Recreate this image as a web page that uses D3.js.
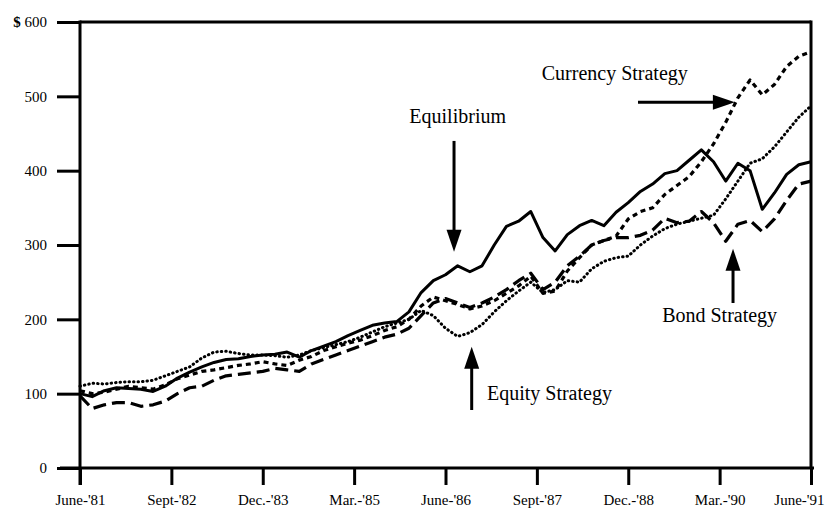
<!DOCTYPE html>
<html>
<head>
<meta charset="utf-8">
<script src="https://cdn.jsdelivr.net/npm/d3@7/dist/d3.min.js"></script>
<style>
    body { margin: 0; background: #fff; }
    svg { display: block; font-family: "Liberation Serif", "Times New Roman", serif; }
</style>
</head>
<body>
<svg id="chart" width="825" height="511"></svg>
<script>
// months since June 1981
var months = [0, 2, 4, 6, 8, 10, 12, 14, 16, 18, 20, 22, 24, 26, 28, 30, 32, 34, 36, 38,
    40, 42, 44, 46, 48, 50, 52, 54, 56, 58, 60, 62, 64, 66, 68, 70, 72, 74, 76, 78,
    80, 82, 84, 86, 88, 90, 92, 94, 96, 98, 100, 102, 104, 106, 108, 110, 112, 114, 116, 118, 120];

var equilibrium = [100, 96, 104, 108, 107, 106, 103, 110, 121, 129, 136, 142, 146, 147, 150, 152, 153, 156, 149, 158,
    164, 170, 178, 185, 192, 195, 197, 210, 236, 252, 260, 272, 264, 272, 300, 325, 332, 345, 310, 292,
    314, 326, 333, 326, 344, 357, 372, 382, 396, 400, 414, 428, 412, 386, 410, 400, 348, 370, 395, 408, 412];

var currency = [104, 100, 102, 106, 110, 108, 106, 112, 120, 125, 130, 132, 135, 138, 140, 143, 140, 138, 145, 150,
    158, 163, 168, 172, 178, 185, 190, 200, 218, 230, 225, 220, 214, 218, 225, 235, 245, 258, 235, 238,
    265, 283, 300, 306, 312, 335, 345, 350, 368, 380, 392, 412, 436, 465, 498, 522, 502, 516, 540, 554, 560];

var equity = [110, 114, 113, 115, 116, 116, 118, 124, 130, 136, 148, 156, 157, 154, 152, 152, 151, 149, 152, 158,
    162, 166, 170, 176, 183, 190, 195, 200, 212, 205, 188, 177, 182, 193, 210, 225, 238, 250, 236, 240,
    252, 250, 268, 278, 283, 285, 300, 312, 322, 328, 332, 336, 340, 362, 386, 410, 416, 432, 452, 472, 487];

var bond = [97, 80, 85, 88, 88, 83, 85, 90, 100, 108, 110, 118, 124, 126, 128, 130, 134, 132, 130, 140,
    146, 152, 158, 164, 170, 176, 180, 188, 205, 222, 228, 222, 216, 222, 230, 240, 252, 262, 240, 250,
    272, 285, 300, 306, 310, 310, 313, 320, 336, 330, 332, 345, 330, 305, 328, 333, 318, 335, 360, 382, 386];

var tickMonths = [0, 15, 30, 45, 60, 75, 90, 105, 120];
var tickLabels = ["June-'81", "Sept-'82", "Dec.-'83", "Mar.-'85", "June-'86", "Sept-'87", "Dec.-'88", "Mar.-'90", "June-'91"];
var valueTicks = [0, 100, 200, 300, 400, 500, 600];

(function()
{

    var svg = d3.select('#chart'),
        x = d3.scaleLinear().domain([0, 120]).range([80, 811]),
        y = d3.scaleLinear().domain([0, 600]).range([468, 22]);

    var series = [
        { name : 'Equilibrium', values : equilibrium, dash : null, width : 3 },
        { name : 'Currency Strategy', values : currency, dash : '5,4', width : 3.2 },
        { name : 'Equity Strategy', values : equity, dash : '0.5,4', width : 3, cap : 'round' },
        { name : 'Bond Strategy', values : bond, dash : '13,6', width : 3.2 }
    ];

    // frame
    svg.append('line')
        .attr('x1', x(0)).attr('x2', x(120))
        .attr('y1', y(600)).attr('y2', y(600))
        .attr('stroke', '#000').attr('stroke-width', 3);
    svg.append('line')
        .attr('x1', x(120)).attr('x2', x(120))
        .attr('y1', y(600) - 1.5).attr('y2', y(0))
        .attr('stroke', '#000').attr('stroke-width', 3);

    var yAxis = svg.append('g')
        .attr('transform', 'translate(' + x(0) + ',0)')
        .call(d3.axisLeft(y).tickValues(valueTicks).tickSize(23).tickPadding(10));

    yAxis.select('.domain').remove();
    yAxis.selectAll('.tick line').attr('stroke-width', 3);
    yAxis.selectAll('.tick text')
        .attr('font-size', 15)
        .attr('font-family', '"Liberation Serif", serif')
        .attr('fill', '#000')
        .each(function(d)
        {
            if (d === 600) {
                var t = d3.select(this).text('');
                t.append('tspan').attr('font-weight', 'bold').text('$');
                t.append('tspan').text(' 600');
            }
        });

    var xAxis = svg.append('g')
        .attr('transform', 'translate(0,' + y(0) + ')')
        .call(d3.axisBottom(x).tickValues(tickMonths).tickSize(17).tickPadding(9)
            .tickFormat(function(d, i)
            {
                return tickLabels[i];
            }));

    xAxis.select('.domain').remove();
    xAxis.selectAll('.tick line').attr('stroke-width', 3);
    xAxis.selectAll('.tick text')
        .attr('font-size', 15)
        .attr('font-family', '"Liberation Serif", serif')
        .attr('fill', '#000')
        .filter(function(d)
        {
            return d === 120;
        })
        .attr('text-anchor', 'end')
        .attr('x', 13);

    // axis lines, reaching past each other as in the print
    svg.append('line')
        .attr('x1', x(0)).attr('x2', x(0))
        .attr('y1', y(600) - 1.5).attr('y2', y(0) + 17)
        .attr('stroke', '#000').attr('stroke-width', 3);
    svg.append('line')
        .attr('x1', x(0) - 20).attr('x2', x(120) + 3)
        .attr('y1', y(0)).attr('y2', y(0))
        .attr('stroke', '#000').attr('stroke-width', 3);

    var line = d3.line()
        .x(function(d, i)
        {
            return x(months[i]);
        })
        .y(function(d)
        {
            return y(d);
        });

    svg.selectAll('path.series')
        .data(series)
        .enter()
        .append('path')
        .attr('class', 'series')
        .attr('fill', 'none')
        .attr('stroke', '#000')
        .attr('stroke-width', function(d)
        {
            return d.width;
        })
        .attr('stroke-linecap', function(d)
        {
            return d.cap || 'butt';
        })
        .attr('stroke-linejoin', 'round')
        .attr('stroke-dasharray', function(d)
        {
            return d.dash;
        })
        .attr('d', function(d)
        {
            return line(d.values);
        });

    // labels with arrows, placed in data units
    var notes = [
        { text : 'Equilibrium', tx : 62, ty : 464, anchor : 'middle', from : [61.4, 440], to : [61.4, 291] },
        { text : 'Currency Strategy', tx : 75.8, ty : 522, anchor : 'start', from : [91.6, 492], to : [107.5, 492] },
        { text : 'Equity Strategy', tx : 66.8, ty : 92, anchor : 'start', from : [64.3, 78], to : [64.3, 163] },
        { text : 'Bond Strategy', tx : 105, ty : 196, anchor : 'middle', from : [107.2, 222], to : [107.2, 295] }
    ];

    var note = svg.selectAll('g.note')
        .data(notes)
        .enter()
        .append('g')
        .attr('class', 'note');

    note.append('text')
        .attr('x', function(d)
        {
            return x(d.tx);
        })
        .attr('y', function(d)
        {
            return y(d.ty);
        })
        .attr('text-anchor', function(d)
        {
            return d.anchor;
        })
        .attr('font-size', 20)
        .attr('fill', '#000')
        .text(function(d)
        {
            return d.text;
        });

    note.each(function(d)
    {
        var g = d3.select(this),
            x1 = x(d.from[0]), y1 = y(d.from[1]),
            x2 = x(d.to[0]), y2 = y(d.to[1]),
            a = Math.atan2(y2 - y1, x2 - x1),
            len = 22, half = 7.5;

        g.append('line')
            .attr('x1', x1).attr('y1', y1)
            .attr('x2', x2 - Math.cos(a) * len * 0.8).attr('y2', y2 - Math.sin(a) * len * 0.8)
            .attr('stroke', '#000').attr('stroke-width', 3);

        var bx = x2 - Math.cos(a) * len, by = y2 - Math.sin(a) * len;
        g.append('path')
            .attr('d', 'M' + x2 + ',' + y2 +
                'L' + (bx - Math.sin(a) * half) + ',' + (by + Math.cos(a) * half) +
                'L' + (bx + Math.sin(a) * half) + ',' + (by - Math.cos(a) * half) + 'Z')
            .attr('fill', '#000');
    });

})();
</script>
</body>
</html>
